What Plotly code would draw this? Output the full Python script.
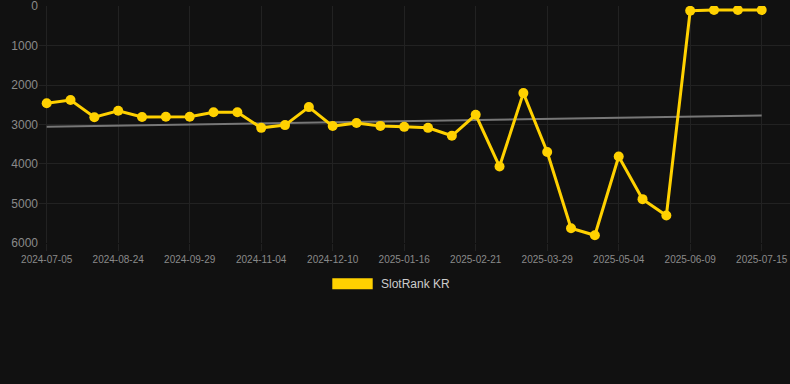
import plotly.graph_objects as go

dates = ["2024-07-05", "2024-07-21", "2024-08-07", "2024-08-24", "2024-09-05", "2024-09-17",
         "2024-09-29", "2024-10-11", "2024-10-23", "2024-11-04", "2024-11-16", "2024-11-28",
         "2024-12-10", "2024-12-22", "2025-01-03", "2025-01-16", "2025-01-28", "2025-02-09",
         "2025-02-21", "2025-03-05", "2025-03-17", "2025-03-29", "2025-04-10", "2025-04-22",
         "2025-05-04", "2025-05-16", "2025-05-28", "2025-06-09", "2025-06-21", "2025-07-03",
         "2025-07-15"]
rank_kr = [2460, 2380, 2815, 2650, 2810, 2805, 2805, 2690, 2690, 3085, 3015, 2560,
           3040, 2960, 3035, 3060, 3085, 3285, 2755, 4065, 2205, 3695, 5625, 5805,
           3810, 4890, 5305, 120, 100, 100, 100]
trend_dates = [dates[0], dates[-1]]
trend_values = [3055, 2775]
tick_labels = dates[::3]
y_ticks = [0, 1000, 2000, 3000, 4000, 5000, 6000]

GOLD = "#FFD100"
BG = "#111111"
GRID = "#222222"
TICKFONT = "#8a8a8a"

fig = go.Figure()
fig.add_trace(go.Scatter(x=trend_dates, y=trend_values, mode="lines",
                         line=dict(color="#777777", width=2), showlegend=False,
                         hoverinfo="skip"))
fig.add_trace(go.Scatter(x=dates, y=rank_kr, mode="lines+markers", name="SlotRank KR",
                         line=dict(color=GOLD, width=3),
                         marker=dict(color=GOLD, size=10), showlegend=False))

W, H = 790, 384
L, R, T, B = 39, 0, 6, 141
pw, ph = W - L - R, H - T - B
step = (761.7 - 46.7) / 30
x0 = -(46.7 - L) / step
x1 = x0 + pw / step

def px(x):
    return (x - L) / pw

def py(y):
    return (H - B - y) / ph

fig.add_shape(type="rect", xref="paper", yref="paper",
              x0=px(332.3), x1=px(372.7), y0=py(289.3), y1=py(278.3),
              fillcolor=GOLD, line=dict(width=0))
fig.add_annotation(xref="paper", yref="paper", x=px(378.5), y=py(284),
                   text="SlotRank KR", showarrow=False, xanchor="left", yanchor="middle",
                   font=dict(size=12, color="#cccccc"))

fig.update_layout(
    width=W, height=H,
    margin=dict(l=L, r=R, t=T, b=B),
    paper_bgcolor=BG, plot_bgcolor=BG,
    font=dict(family="Liberation Sans, Arial, sans-serif", color=TICKFONT),
    showlegend=False,
)
fig.update_xaxes(type="category", categoryorder="array", categoryarray=dates,
                 range=[x0, x1], tickmode="array", tickvals=tick_labels, ticktext=tick_labels,
                 showgrid=True, gridcolor=GRID, gridwidth=1,
                 ticks="outside", ticklen=7, tickcolor=GRID,
                 tickfont=dict(size=10, color=TICKFONT), tickangle=0,
                 ticklabeloverflow="allow",
                 showline=False, zeroline=False)
fig.update_yaxes(range=[6000.5, -0.5], tickmode="array", tickvals=y_ticks,
                 showgrid=True, gridcolor=GRID, gridwidth=1,
                 tickfont=dict(size=12, color=TICKFONT), ticks="",
                 ticklabeloverflow="allow",
                 showline=False, zeroline=False)

fig.write_html("out.html", config={"displayModeBar": False},
               post_script="document.body.style.margin='0';document.body.style.background='#111111';")
